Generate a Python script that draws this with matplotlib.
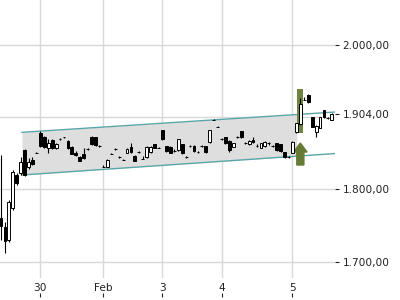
import numpy as np
import matplotlib
matplotlib.use('Agg')
import matplotlib.pyplot as plt
from matplotlib.patches import FancyArrow

# candles (one per bar, left to right)
opens = [1760.5, 1748.1, 1730.1, 1774.4, 1820.1, 1822.9, 1854.7, 1831.2, 1840.9, 1850.6,
         1878.3, 1872.7, 1857.5, 1868.6, 1857.5, 1869.9, 1872.7, 1867.2, 1858.9, 1850.6,
         1845.0, 1849.2, 1856.1, 1872.7, 1872.7, 1860.2, 1831.2, 1831.2, 1849.2, 1856.1,
         1845.0, 1840.9, 1850.6, 1858.9, 1846.4, 1851.9, 1842.2, 1845.0, 1851.9, 1863.0,
         1857.5, 1882.4, 1860.2, 1858.9, 1853.3, 1854.7, 1863.0, 1845.0, 1860.2, 1860.2,
         1851.9, 1860.2, 1860.2, 1865.8, 1896.3, 1886.6, 1869.9, 1872.7, 1867.2, 1858.9,
         1872.7, 1881.0, 1864.4, 1863.0, 1868.6, 1860.2, 1857.5, 1860.2, 1864.4, 1860.2,
         1864.4, 1863.0, 1851.9, 1845.0, 1850.6, 1879.6, 1890.7, 1924.0, 1930.9, 1900.4,
         1879.6, 1885.2, 1910.1, 1899.0, 1896.3]
highs = [1847.8, 1755.0, 1785.5, 1827.0, 1822.9, 1845.0, 1856.1, 1843.6, 1845.0, 1851.9,
         1881.0, 1874.0, 1869.9, 1869.9, 1864.4, 1871.3, 1873.4, 1868.6, 1860.2, 1853.3,
         1846.4, 1857.5, 1857.5, 1874.0, 1873.4, 1861.6, 1833.9, 1841.6, 1850.6, 1857.3,
         1846.4, 1842.2, 1857.5, 1864.4, 1847.1, 1853.3, 1846.4, 1860.2, 1859.6, 1863.7,
         1858.9, 1883.1, 1860.9, 1859.6, 1856.1, 1870.6, 1863.7, 1845.9, 1861.2, 1861.0,
         1852.9, 1861.2, 1860.9, 1883.1, 1897.3, 1887.6, 1870.9, 1873.4, 1867.9, 1865.1,
         1873.7, 1881.7, 1865.4, 1868.6, 1872.7, 1863.0, 1865.1, 1866.5, 1865.4, 1861.2,
         1865.1, 1863.7, 1852.6, 1846.0, 1866.5, 1892.8, 1926.7, 1928.0, 1931.6, 1901.1,
         1888.7, 1901.1, 1910.8, 1900.0, 1905.3]
lows = [1730.1, 1712.1, 1727.3, 1771.6, 1806.2, 1820.1, 1818.7, 1828.4, 1833.9, 1849.9,
        1858.9, 1857.5, 1850.6, 1856.1, 1856.1, 1869.2, 1871.8, 1856.1, 1848.5, 1847.0,
        1838.8, 1842.9, 1855.4, 1862.3, 1860.9, 1859.5, 1830.5, 1830.5, 1848.5, 1855.4,
        1844.3, 1840.2, 1849.9, 1851.2, 1838.8, 1851.2, 1841.6, 1844.3, 1851.2, 1856.8,
        1856.8, 1869.2, 1852.6, 1849.9, 1852.6, 1854.0, 1848.5, 1844.3, 1859.5, 1852.6,
        1851.2, 1859.5, 1851.2, 1865.1, 1895.6, 1885.9, 1868.6, 1863.7, 1851.9, 1858.2,
        1872.0, 1872.0, 1863.7, 1862.3, 1865.1, 1859.5, 1856.8, 1859.5, 1861.6, 1859.5,
        1854.0, 1852.6, 1844.3, 1844.3, 1849.9, 1878.9, 1890.0, 1923.3, 1920.5, 1885.9,
        1872.7, 1884.5, 1899.7, 1898.3, 1895.6]
closes = [1749.4, 1728.7, 1782.7, 1824.2, 1809.0, 1838.1, 1820.1, 1838.1, 1835.3, 1851.2,
          1860.2, 1858.9, 1864.4, 1857.5, 1863.0, 1870.5, 1872.2, 1857.5, 1849.2, 1847.8,
          1839.5, 1843.6, 1856.6, 1863.0, 1861.6, 1860.8, 1831.8, 1840.9, 1849.8, 1856.6,
          1845.6, 1841.4, 1856.1, 1851.9, 1839.5, 1852.4, 1842.7, 1858.9, 1858.9, 1857.5,
          1858.0, 1869.9, 1853.3, 1850.6, 1853.8, 1869.9, 1850.6, 1845.5, 1860.7, 1853.3,
          1852.4, 1860.7, 1851.9, 1882.4, 1896.8, 1887.1, 1870.4, 1864.4, 1854.7, 1864.4,
          1873.2, 1872.7, 1864.9, 1867.2, 1865.8, 1860.7, 1864.4, 1865.8, 1864.9, 1860.7,
          1854.7, 1853.3, 1845.0, 1845.5, 1865.8, 1892.1, 1918.4, 1924.5, 1921.2, 1886.6,
          1888.0, 1900.4, 1900.4, 1899.5, 1904.6]

day_pos = [10, 26, 41, 56, 74]
day_labels = ['30', 'Feb', '3', '4', '5']
price_ticks = [1700, 1800, 1904, 2000]
price_labels = ['1.700,00', '1.800,00', '1.904,00', '2.000,00']
grid_levels = [1700, 1800, 1900, 2000]

# trend channel end points (bar index, price)
chan_x = [5.33, 84.8]
chan_upper = [1879.2, 1907.3]
chan_lower = [1820.1, 1849.8]
chan_fill_end = 75.1

# signal bar
sig_idx = 76
sig_top, sig_bottom = 1939.2, 1878.3
arrow_top, arrow_bottom = 1864.4, 1833.9

fig = plt.figure(figsize=(4, 3), dpi=100)
ax = fig.add_axes([0, 22 / 300, 335 / 400, 278 / 300])
font_color = '#222222'

x = np.arange(len(opens))
o = np.array(opens)
c = np.array(closes)

ax.set_xlim(-0.25, 84.8)
ax.set_ylim(1677.4, 2062.5)

# grid
for lvl in grid_levels:
    ax.axhline(lvl, color='#d8d8d8', lw=1, zorder=0)
for d in day_pos:
    ax.axvline(d, color='#d8d8d8', lw=1, zorder=0)

# channel
xf = np.array([chan_x[0], chan_fill_end])
ax.fill_between(xf, np.interp(xf, chan_x, chan_lower), np.interp(xf, chan_x, chan_upper),
                color='#dedede', zorder=1, lw=0)
ax.plot(chan_x, chan_upper, color='#5aa6a6', lw=1, zorder=2)
ax.plot(chan_x, chan_lower, color='#5aa6a6', lw=1, zorder=2)

# signal marker
ax.bar(sig_idx, sig_top - sig_bottom, bottom=sig_bottom, width=1.5, color='#6f8440', zorder=2.5)
ax.add_patch(FancyArrow(sig_idx, arrow_bottom, 0, arrow_top - arrow_bottom, width=1.8,
                        head_width=3.4, head_length=12.5, length_includes_head=True,
                        color='#667a35', zorder=2.5))

# candles
ax.vlines(x, lows, highs, color='black', lw=0.8, zorder=3)
up = c >= o
body_h = np.maximum(np.abs(c - o), 0.6)
ax.bar(x, body_h, bottom=np.minimum(o, c), width=0.72,
       color=np.where(up, 'white', 'black'), edgecolor='black', linewidth=0.7, zorder=4)

for s in ax.spines.values():
    s.set_visible(False)

ax.yaxis.tick_right()
ax.set_yticks(price_ticks, labels=price_labels)
ax.tick_params(axis='y', length=3, width=0.8, pad=2.5, labelsize=7.6, colors=font_color)

ax.set_xticks(day_pos, labels=day_labels)
ax.tick_params(axis='x', length=0, pad=3.5, labelsize=7.6, colors=font_color)

sec = ax.secondary_xaxis(-0.054)
sec.set_xticks(day_pos, labels=[''] * len(day_pos))
sec.spines['bottom'].set_visible(False)
sec.tick_params(axis='x', length=3, width=0.8, direction='out', colors=font_color)

plt.savefig('out.png', dpi=100)
